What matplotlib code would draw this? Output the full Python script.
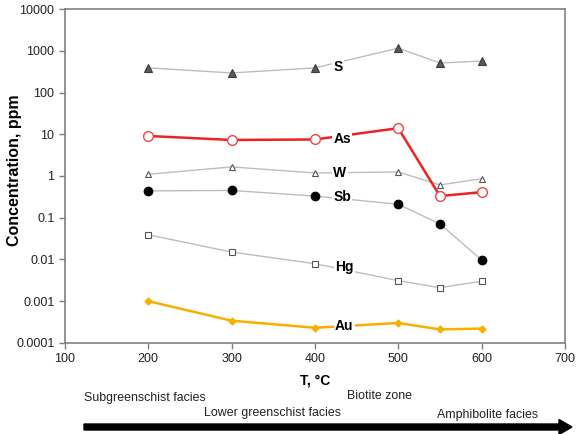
import matplotlib
matplotlib.use("Agg")
import matplotlib.pyplot as plt
from matplotlib.ticker import FixedLocator, FixedFormatter, NullLocator

plt.rcParams['font.family'] = ['Liberation Sans', 'DejaVu Sans']

# Temperature, °C
temps = [200, 300, 400, 500, 550, 600]

# Element concentrations, ppm
s_vals = [390, 295, 390, 1160, 510, 570]
as_vals = [9.1, 7.3, 7.5, 14, 0.33, 0.41]
w_vals = [1.1, 1.65, 1.18, 1.25, 0.61, 0.86]
sb_vals = [0.44, 0.45, 0.33, 0.21, 0.071, 0.0097]
hg_vals = [0.039, 0.015, 0.0079, 0.0031, 0.0021, 0.003]
au_vals = [0.001, 0.00034, 0.00023, 0.0003, 0.00021, 0.00022]

y_ticks = [0.0001, 0.001, 0.01, 0.1, 1, 10, 100, 1000, 10000]
y_tick_labels = ['0.0001', '0.001', '0.01', '0.1', '1', '10', '100', '1000', '10000']
x_ticks = [100, 200, 300, 400, 500, 600, 700]

fig = plt.figure(figsize=(5.8, 4.34), dpi=100)
ax = fig.add_axes([0.112, 0.21, 0.862, 0.769])

grey = '#bdbdbd'
ax.plot(temps, s_vals, color=grey, lw=1.0, marker='^', ms=6,
        mfc='#5a5a5a', mec='#3a3a3a', mew=0.8, zorder=3)
ax.plot(temps, w_vals, color=grey, lw=1.0, marker='^', ms=4.5,
        mfc='white', mec='#555555', mew=0.8, zorder=3)
ax.plot(temps, sb_vals, color=grey, lw=1.0, marker='o', ms=6,
        mfc='black', mec='black', zorder=3)
ax.plot(temps, hg_vals, color=grey, lw=1.0, marker='s', ms=4.5,
        mfc='white', mec='#555555', mew=0.8, zorder=3)
ax.plot(temps, as_vals, color='#ee2222', lw=1.8, marker='o', ms=7,
        mfc='white', mec='#ee4444', mew=1.0, zorder=4)
ax.plot(temps, au_vals, color='#f5b000', lw=1.8, marker='D', ms=3.5,
        mfc='#f5b000', mec='#f5b000', zorder=4)

label_kw = dict(fontsize=10, fontweight='bold', ha='left', va='center', zorder=5,
                bbox=dict(boxstyle='square,pad=0.1', fc='white', ec='none'))
ax.text(422, 420, 'S', **label_kw)
ax.text(422, 7.6, 'As', **label_kw)
ax.text(422, 1.2, 'W', **label_kw)
ax.text(422, 0.31, 'Sb', **label_kw)
ax.text(424, 0.0066, 'Hg', **label_kw)
ax.text(424, 0.00025, 'Au', **label_kw)

ax.set_yscale('log')
ax.set_xlim(100, 700)
ax.set_ylim(0.0001, 10000)
ax.yaxis.set_major_locator(FixedLocator(y_ticks))
ax.yaxis.set_major_formatter(FixedFormatter(y_tick_labels))
ax.yaxis.set_minor_locator(NullLocator())
ax.set_xticks(x_ticks)

for sp in ax.spines.values():
    sp.set_color('#808080')
    sp.set_linewidth(1.2)
ax.tick_params(axis='both', which='major', labelsize=9, colors='#808080',
               labelcolor='#222222', length=4, width=1.0)

fig.text(15 / 580, 1 - 170 / 434, 'Concentration, ppm', fontsize=11.5,
         fontweight='bold', rotation=90, ha='center', va='center')
ax.set_xlabel('T, °C', fontsize=10, fontweight='bold', labelpad=6)

# Metamorphic facies along the temperature axis
fkw = dict(fontsize=8.9, color='#222222', va='center', ha='left')
fig.text(84 / 580, 1 - 398 / 434, 'Subgreenschist facies', **fkw)
fig.text(204 / 580, 1 - 413 / 434, 'Lower greenschist facies', **fkw)
fig.text(347 / 580, 1 - 396 / 434, 'Biotite zone', **fkw)
fig.text(437 / 580, 1 - 415 / 434, 'Amphibolite facies', **fkw)

fig.patches.append(matplotlib.patches.FancyArrow(
    84 / 580, 1 - 427 / 434, (572 - 84) / 580, 0,
    width=6 / 434, head_width=15 / 434, head_length=13 / 580,
    length_includes_head=True, color='black', transform=fig.transFigure))

fig.savefig('out.png', dpi=100)
